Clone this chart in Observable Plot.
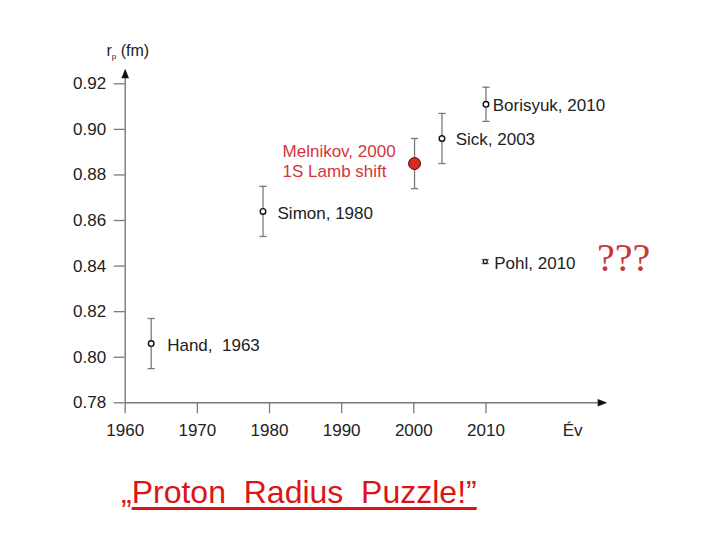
<!DOCTYPE html>
<html>
<head>
<meta charset="utf-8">
<script src="https://cdn.jsdelivr.net/npm/d3@7"></script>
<script src="https://cdn.jsdelivr.net/npm/@observablehq/plot@0.6"></script>
<style>
  html, body { margin: 0; padding: 0; background: #fff; }
  #wrap { position: relative; width: 720px; height: 540px; overflow: hidden; }
  #caption {
    position: absolute; left: 121px; top: 473px;
    font-family: "Liberation Sans", Arial, sans-serif; font-size: 32px; line-height: 38px;
    color: #dd1414; white-space: pre;
  }
  #caption span { text-decoration: underline; text-decoration-thickness: 3px; text-underline-offset: 4px; }
</style>
</head>
<body>
<div id="wrap">
  <div id="chart"></div>
  <div id="caption">„<span>Proton  Radius  Puzzle!”</span></div>
</div>
<script>
// ---- data ----
const labels = ["Hand,  1963", "Simon, 1980", "Melnikov, 2000\n1S Lamb shift", "Sick, 2003", "Borisyuk, 2010", "Pohl, 2010"];
const years = [1963.6, 1979.1, 2000.1, 2003.9, 2010.0, 2009.9];
const radius = [0.806, 0.864, 0.885, 0.896, 0.911, 0.842];
const errors = [0.011, 0.011, 0.011, 0.011, 0.0075, 0.0009];
const highlighted = [false, false, true, false, false, false];
const yTicks = [0.78, 0.80, 0.82, 0.84, 0.86, 0.88, 0.90, 0.92];
const xTicks = [1960, 1970, 1980, 1990, 2000, 2010];
const xAxisName = "Év";
const puzzleMark = "???";

// ---- styling ----
const labelDx = [16, 14.5, -132, 13.7, 6.7, 9];
const labelDy = [1, 1.5, -2.6, 0.5, 0.5, 1];
const axisGray = "#7a7a7a";
const textColor = "#222";

const rows = labels.map((name, i) => ({
  name, year: years[i], r: radius[i], lo: radius[i] - errors[i], hi: radius[i] + errors[i],
  hl: highlighted[i], i
}));
const isPohl = d => d.i === 5;

const capSymbol = { draw(ctx, size) { const w = Math.sqrt(size / Math.PI); ctx.moveTo(-w, 0); ctx.lineTo(w, 0); } };
const arrowSymbol = { draw(ctx, size) { ctx.moveTo(0, 0); ctx.lineTo(3.8, 9.5); ctx.lineTo(-3.8, 9.5); ctx.closePath(); } };

const xMin = 1960, xMax = 2026.8, yMin = 0.78, yMax = 0.92, yTip = 0.9266;

const labelMarks = rows.map((d, i) => Plot.text([d], {
  x: "year", y: "r", text: "name",
  dx: labelDx[i], dy: labelDy[i], textAnchor: "start", lineAnchor: "middle",
  lineHeight: 1.18, fontSize: 17,
  fill: d.hl ? "#d2363c" : textColor
}));

const svg = Plot.plot({
  width: 720, height: 470,
  marginLeft: 124.7, marginRight: 113.3, marginTop: 83.3, marginBottom: 67.7,
  style: { fontFamily: "'Liberation Sans', Arial, sans-serif", background: "#fff", overflow: "visible" },
  x: { domain: [xMin, xMax] },
  y: { domain: [yMin, yMax] },
  marks: [
    Plot.axisY({ ticks: yTicks, tickFormat: d3.format(".2f"), tickSize: 11, tickPadding: 8, fontSize: 17,
      stroke: axisGray, strokeWidth: 1.3, fill: textColor, label: null }),
    Plot.axisX({ ticks: xTicks, tickFormat: d => String(d), tickSize: 11, tickPadding: 10, fontSize: 17,
      stroke: axisGray, strokeWidth: 1.3, fill: textColor, label: null }),
    Plot.ruleX([xMin], { y1: yMin, y2: yTip - 0.003, stroke: axisGray, strokeWidth: 1.4 }),
    Plot.ruleY([yMin], { x1: xMin, x2: xMax - 0.8, stroke: axisGray, strokeWidth: 1.4 }),
    Plot.dot([0], { x: xMin, y: yTip, symbol: arrowSymbol, r: 5, fill: "#111", stroke: null }),
    Plot.dot([0], { x: xMax, y: yMin, symbol: arrowSymbol, r: 5, fill: "#111", stroke: null, rotate: 90 }),
    Plot.text([xAxisName], { x: 2022, y: yMin, dy: 21, lineAnchor: "top", fontSize: 17, fill: textColor }),
    // error bars
    Plot.ruleX(rows, { x: "year", y1: "lo", y2: "hi", stroke: axisGray, strokeWidth: 1.3 }),
    Plot.dot(rows, { x: "year", y: "lo", symbol: capSymbol, r: 3.6, stroke: axisGray, strokeWidth: 1.3, fill: null }),
    Plot.dot(rows, { x: "year", y: "hi", symbol: capSymbol, r: 3.6, stroke: axisGray, strokeWidth: 1.3, fill: null }),
    // points
    Plot.dot(rows.filter(d => !d.hl && !isPohl(d)), { x: "year", y: "r", r: 2.8, fill: "#fff", stroke: "#111", strokeWidth: 1.4 }),
    Plot.dot(rows.filter(isPohl), { x: "year", y: "r", r: 2, fill: "#fff", stroke: "#111", strokeWidth: 1.2 }),
    Plot.dot(rows.filter(d => d.hl), { x: "year", y: "r", r: 6, fill: "#d62a20", stroke: "#4a1010", strokeWidth: 1 }),
    ...labelMarks,
    Plot.text(rows.filter(isPohl), { x: "year", y: "r", text: () => puzzleMark, dx: 111.7, dy: -3.5, textAnchor: "start",
      lineAnchor: "middle", fontFamily: "'Liberation Serif', 'Times New Roman', serif", fontSize: 40, fill: "#c8363a" })
  ]
});

// y-axis title with subscript
const t = d3.select(svg).append("text")
  .attr("x", 106.5).attr("y", 56).attr("font-size", 16).attr("fill", textColor)
  .attr("text-anchor", "start")
  .attr("font-family", "'Liberation Sans', Arial, sans-serif");
t.append("tspan").text("r");
t.append("tspan").attr("font-size", 8).attr("dy", 3).text("p");
t.append("tspan").attr("dy", -3).text(" (fm)");

document.getElementById("chart").appendChild(svg);
</script>
</body>
</html>
